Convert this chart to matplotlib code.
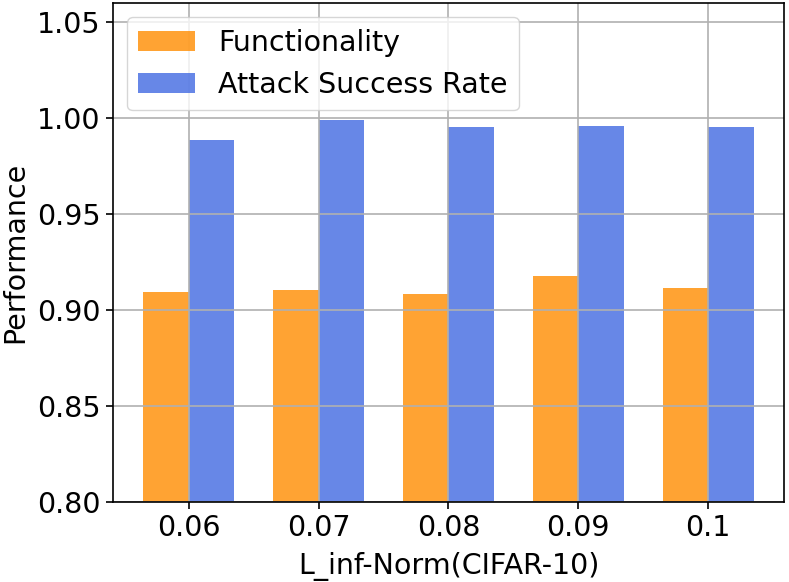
import matplotlib
matplotlib.use("Agg")
import matplotlib.pyplot as plt
import numpy as np

# values
norms = ["0.06", "0.07", "0.08", "0.09", "0.1"]
functionality = [0.9094, 0.9107, 0.9082, 0.9178, 0.9117]
attack_success = [0.9887, 0.9988, 0.9953, 0.9959, 0.9952]

width = 0.35
x = np.arange(len(norms))
fs = 20.5

fig = plt.figure(figsize=(7.89, 5.82), dpi=100)
ax = fig.add_axes([0.1428, 0.1375, 0.8512, 0.8573])

ax.bar(x - width / 2, functionality, width, color="darkorange", alpha=0.8, label="Functionality")
ax.bar(x + width / 2, attack_success, width, color="royalblue", alpha=0.8, label="Attack Success Rate")

ax.set_ylim(0.8, 1.06)
ax.set_xticks(x)
ax.set_xticklabels(norms)
ax.tick_params(labelsize=fs, width=1.2, length=5)
ax.set_xlabel("L_inf-Norm(CIFAR-10)", fontsize=fs, labelpad=7)
ax.set_ylabel("Performance", fontsize=fs, labelpad=6)
for s in ax.spines.values():
    s.set_linewidth(1.2)
ax.grid(True, linewidth=1.2)
ax.legend(loc="upper left", fontsize=fs)

fig.savefig("out.png", dpi=100)
